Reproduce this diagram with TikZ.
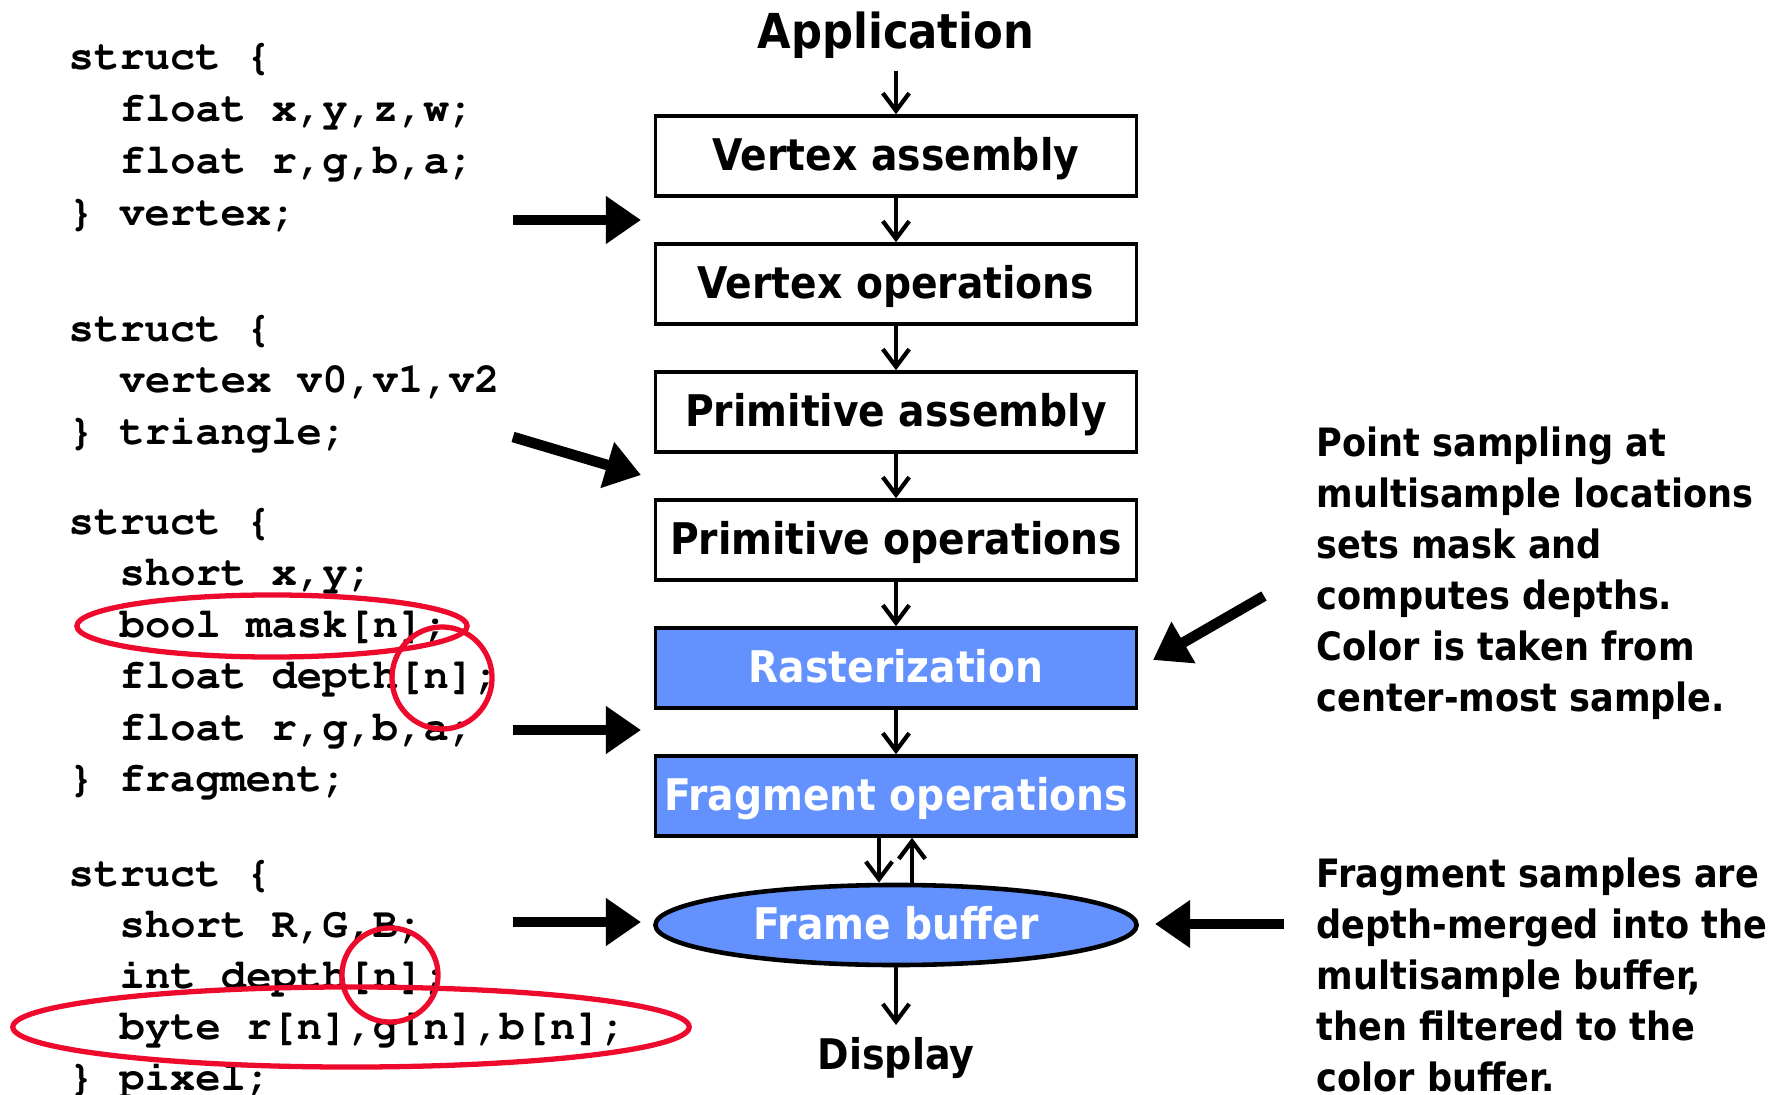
\documentclass[tikz,border=0pt]{standalone}
\usepackage[T1]{fontenc}
\usepackage{fontspec}
\setsansfont{DejaVu Sans Condensed}
\usetikzlibrary{arrows.meta,shapes.geometric}

\newcommand{\codefont}{\fontencoding{T1}\fontfamily{pcr}\fontseries{b}\fontshape{n}\fontsize{12pt}{14pt}\selectfont}

\begin{document}
\begin{tikzpicture}[x=0.01cm, y=-0.01cm,
    stage/.style={draw, line width=1pt, minimum width=4.81cm, minimum height=0.8cm,
        inner sep=0pt, text height=8pt, text depth=0pt,
        font=\sffamily\bfseries\fontsize{12.4}{15}\selectfont},
    hot/.style={stage, fill=mystage, text=white},
    flow/.style={-{Straight Barb[length=5pt,width=7.5pt]}, line width=1.2pt},
    fat/.style={-{Triangle[length=10pt,width=13pt]}, line width=3pt},
    code/.style={anchor=base west, inner sep=0pt, font=\codefont},
    note/.style={anchor=north west, inner sep=0pt, align=left,
        font=\sffamily\bfseries\fontsize{11.1}{14.5}\selectfont},
    hilite/.style={draw=myred, line width=1.5pt}]
    \definecolor{mystage}{RGB}{99,146,255}
    \definecolor{myred}{RGB}{238,10,45}

    \useasboundingbox (0,0) rectangle (1786,1095);

    % pipeline
    \node[font=\sffamily\bfseries\fontsize{13.7}{16}\selectfont] (app) at (896,35) {Application};
    \node[stage] (vasm) at (896,156) {Vertex assembly};
    \node[stage] (vops) at (896,284) {Vertex operations};
    \node[stage] (pasm) at (896,412) {Primitive assembly};
    \node[stage] (pops) at (896,540) {Primitive operations};
    \node[hot] (rast) at (896,668) {Rasterization};
    \node[hot] (fops) at (896,796) {Fragment operations};
    \node[hot, ellipse, line width=1.3pt] (fb) at (896,925) {Frame buffer};
    \node[font=\sffamily\bfseries\fontsize{12}{14}\selectfont] (disp) at (896,1058) {Display};

    \draw[flow] (app) -- (vasm);
    \draw[flow] (vasm) -- (vops);
    \draw[flow] (vops) -- (pasm);
    \draw[flow] (pasm) -- (pops);
    \draw[flow] (pops) -- (rast);
    \draw[flow] (rast) -- (fops);
    \draw[flow] ([xshift=-0.17cm]fops.south) -- ([xshift=-0.17cm]fb.north);
    \draw[flow] ([xshift=0.16cm]fb.north) -- ([xshift=0.16cm]fops.south);
    \draw[flow] (fb) -- (disp);

    % data structures
    \node[code] (v1) at (68,70) {struct \{};
    \node[code] (v2) at (119,122) {float x,y,z,w;};
    \node[code] (v3) at (119,174) {float r,g,b,a;};
    \node[code] (v4) at (68,226) {\} vertex;};

    \node[code] (t1) at (68,342) {struct \{};
    \node[code] (t2) at (119,393) {vertex v0,v1,v2};
    \node[code] (t3) at (68,445) {\} triangle;};

    \node[code] (f1) at (68,535) {struct \{};
    \node[code] (f2) at (119,586) {short x,y;};
    \node[code] (f3) at (119,637) {bool mask[n];};
    \node[code] (f4) at (119,689) {float depth[n];};
    \node[code] (f5) at (119,740) {float r,g,b,a;};
    \node[code] (f6) at (68,791) {\} fragment;};

    \node[code] (p1) at (68,886) {struct \{};
    \node[code] (p2) at (119,937) {short R,G,B;};
    \node[code] (p3) at (119,988) {int depth[n];};
    \node[code] (p4) at (119,1039) {byte r[n],g[n],b[n];};
    \node[code] (p5) at (68,1090) {\} pixel;};

    % red marks
    \draw[hilite] (272,626) ellipse (1.95cm and 0.31cm);
    \draw[hilite] (442,678) ellipse (0.5cm and 0.51cm);
    \draw[hilite] (390,975) ellipse (0.48cm and 0.47cm);
    \draw[hilite] (351,1027) ellipse (3.38cm and 0.4cm);

    % notes
    \node[note] (n1) at (1316,426) {Point sampling at\\multisample locations\\sets mask and\\computes depths.\\Color is taken from\\center-most sample.};
    \node[note] (n2) at (1316,857) {Fragment samples are\\depth-merged into the\\multisample buffer,\\then filtered to the\\color buffer.};

    % big arrows
    \coordinate (a1s) at (513,220);
    \coordinate (a1e) at (641,220);
    \coordinate (a2s) at (513,437);
    \coordinate (a2e) at (641,475);
    \coordinate (a3s) at (513,730);
    \coordinate (a3e) at (641,730);
    \coordinate (a4s) at (513,922);
    \coordinate (a4e) at (641,922);
    \coordinate (b1s) at (1264,596);
    \coordinate (b1e) at (1153,660);
    \coordinate (b2s) at (1284,924);
    \coordinate (b2e) at (1155,924);
    \draw[fat] (a1s) -- (a1e);
    \draw[fat] (a2s) -- (a2e);
    \draw[fat] (a3s) -- (a3e);
    \draw[fat] (a4s) -- (a4e);
    \draw[fat] (b1s) -- (b1e);
    \draw[fat] (b2s) -- (b2e);
\end{tikzpicture}
\end{document}
